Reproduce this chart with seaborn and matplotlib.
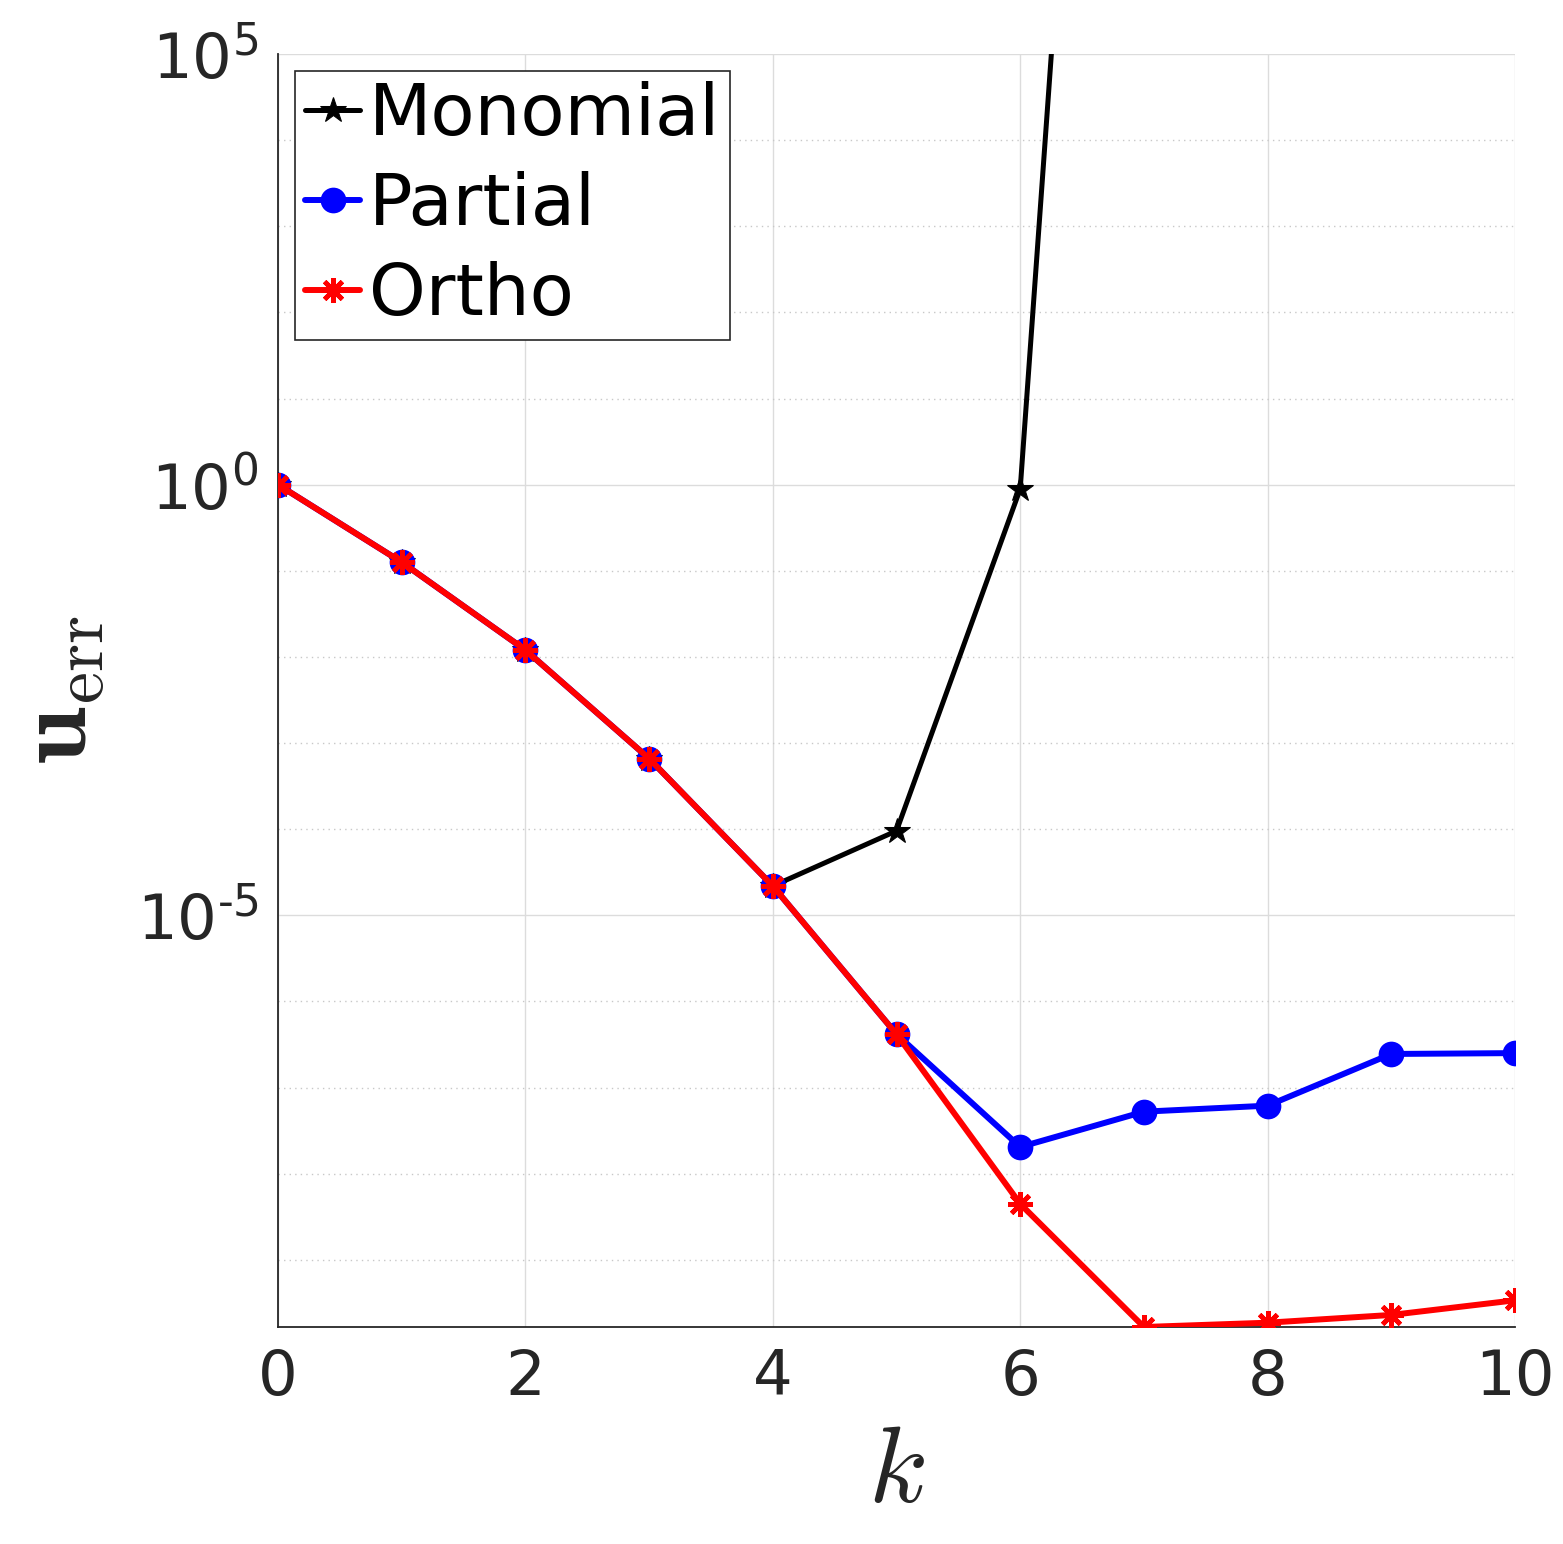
import numpy as np
import pandas as pd
import matplotlib
matplotlib.use("Agg")
import matplotlib.pyplot as plt
from matplotlib.ticker import FixedLocator, FixedFormatter, NullFormatter
import seaborn as sns

# ---- data ----
k_mono = [0, 1, 2, 3, 4, 5, 6, 7]
monomial = [1.0, 10**-0.9, 10**-1.92, 10**-3.18, 10**-4.66, 10**-4.02, 10**-0.05, 1e20]

k_all = [0, 1, 2, 3, 4, 5, 6, 7, 8, 9, 10]
partial = [1.0, 10**-0.9, 10**-1.92, 10**-3.18, 10**-4.66, 10**-6.38,
           10**-7.69, 10**-7.28, 10**-7.21, 10**-6.61, 10**-6.60]
ortho = [1.0, 10**-0.9, 10**-1.92, 10**-3.18, 10**-4.66, 10**-6.38,
         10**-8.35, 10**-9.78, 10**-9.73, 10**-9.64, 10**-9.47]

series_names = ["Monomial", "Partial", "Ortho"]
xticks = [0, 2, 4, 6, 8, 10]
yticks = [1e-5, 1e0, 1e5]
ytick_labels = [r"$10^{\text{-}5}$", r"$10^{0}$", r"$10^{5}$"]

sns.set_style("white")
plt.rcParams["font.family"] = ["DejaVu Sans"]
plt.rcParams["mathtext.fontset"] = "dejavusans"

fig = plt.figure(figsize=(15.63, 15.44), dpi=100)
W, H = 1563, 1544
l, r, t, b = 278, 1515, 54, 1327
ax = fig.add_axes([l / W, 1 - b / H, (r - l) / W, (b - t) / H])

df_m = pd.DataFrame({"k": k_mono, "err": monomial})
df_p = pd.DataFrame({"k": k_all, "err": partial})
df_o = pd.DataFrame({"k": k_all, "err": ortho})

sns.lineplot(data=df_m, x="k", y="err", ax=ax, color="black", linewidth=3.6,
             marker="*", markersize=19, markeredgecolor="black",
             label=series_names[0], zorder=3)
sns.lineplot(data=df_p, x="k", y="err", ax=ax, color="blue", linewidth=4.3,
             marker="o", markersize=16, markeredgecolor="blue",
             markeredgewidth=2.5, label=series_names[1], zorder=4)
sns.lineplot(data=df_o, x="k", y="err", ax=ax, color="red", linewidth=4.3,
             marker=(8, 2, 0), markersize=18, markeredgecolor="red",
             markeredgewidth=3.4, label=series_names[2], zorder=5)

ax.set_yscale("log")
ax.set_xlim(0, 10)
ax.set_ylim(ortho[7], 1e5)

ax.xaxis.set_major_locator(FixedLocator(xticks))
ax.set_xticklabels([str(v) for v in xticks])
ax.yaxis.set_major_locator(FixedLocator(yticks))
ax.yaxis.set_major_formatter(FixedFormatter(ytick_labels))
minor = [10.0**e for e in range(-9, 5) if e not in (-5, 0)]
ax.yaxis.set_minor_locator(FixedLocator(minor))
ax.yaxis.set_minor_formatter(NullFormatter())

tc = "#262626"
ax.tick_params(axis="both", which="major", direction="in", length=8.5,
               width=1.1, color=tc, labelsize=45, labelcolor=tc)
ax.tick_params(axis="x", which="major", pad=15)
ax.tick_params(axis="y", which="major", pad=14)
ax.tick_params(axis="y", which="minor", direction="in", length=5, width=1.0, color=tc)

ax.grid(True, which="major", color="#dcdcdc", linestyle="-", linewidth=1.0)
ax.grid(True, which="minor", axis="y", color="#c8c8c8", linestyle=(0, (1, 3)), linewidth=1.0)
ax.set_axisbelow(True)

for s in ["top", "right"]:
    ax.spines[s].set_visible(False)
for s in ["left", "bottom"]:
    ax.spines[s].set_color(tc)
    ax.spines[s].set_linewidth(1.3)

ax.set_xlabel(r"$k$", fontsize=78, color=tc, math_fontfamily="cm", labelpad=8)
ax.set_ylabel(r"$\mathbf{u}_{\rm err}$", fontsize=74, color=tc, math_fontfamily="cm", labelpad=20)

leg = ax.legend(loc="upper left", bbox_to_anchor=(17 / (r - l), 1 - 17 / (b - t)),
                borderaxespad=0, fontsize=52, frameon=True, fancybox=False,
                framealpha=1, edgecolor="#262626", handlelength=0.76,
                handletextpad=0.12, labelspacing=0.29, borderpad=0.14)
leg.get_frame().set_linewidth(1.2)
for txt in leg.get_texts():
    txt.set_color("black")

fig.savefig("out.png", dpi=100)
